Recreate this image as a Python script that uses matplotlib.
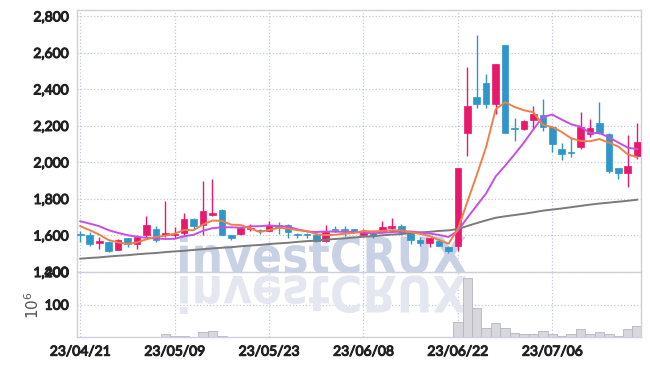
import numpy as np
import matplotlib.pyplot as plt
import matplotlib.patheffects as pe
from matplotlib.textpath import TextPath
from matplotlib.patches import PathPatch
from matplotlib.font_manager import FontProperties
from matplotlib.transforms import Affine2D, IdentityTransform
from matplotlib.ticker import FuncFormatter

# daily OHLC (KRW), one entry per trading day
opens = [1605, 1605, 1560, 1567, 1520, 1584, 1551, 1600, 1638, 1604,
         1600, 1611, 1693, 1656, 1713, 1742, 1600, 1609, 1633, 1627,
         1624, 1658, 1660, 1604, 1603, 1602, 1569, 1636, 1636, 1636,
         1605, 1614, 1620, 1643, 1653, 1614, 1578, 1558, 1569, 1538,
         1545, 2160, 2360, 2437, 2320, 2642, 2188, 2182, 2233, 2260,
         2196, 2075, 2060, 2084, 2156, 2215, 2156, 1969, 1942, 2038]
highs = [1626, 1620, 1593, 1568, 1582, 1588, 1600, 1705, 1651, 1790,
         1645, 1722, 1695, 1900, 1908, 1745, 1602, 1645, 1662, 1636,
         1678, 1673, 1662, 1614, 1613, 1605, 1655, 1650, 1650, 1638,
         1635, 1628, 1678, 1696, 1663, 1616, 1590, 1586, 1573, 1545,
         1972, 2523, 2700, 2483, 2540, 2642, 2245, 2230, 2311, 2347,
         2200, 2105, 2138, 2275, 2236, 2333, 2160, 1972, 2151, 2215]
lows = [1564, 1542, 1524, 1512, 1518, 1536, 1524, 1587, 1564, 1590,
        1588, 1598, 1635, 1605, 1705, 1600, 1578, 1600, 1624, 1607,
        1622, 1610, 1588, 1584, 1586, 1565, 1562, 1620, 1598, 1618,
        1600, 1588, 1615, 1624, 1605, 1555, 1545, 1536, 1542, 1505,
        1515, 2036, 2300, 2296, 2264, 2163, 2118, 2180, 2184, 2173,
        2055, 2011, 2030, 2073, 2142, 2158, 1942, 1909, 1864, 2020]
closes = [1600, 1551, 1568, 1515, 1578, 1556, 1591, 1655, 1578, 1614,
          1610, 1693, 1651, 1733, 1722, 1602, 1588, 1642, 1642, 1623,
          1656, 1648, 1620, 1600, 1600, 1569, 1620, 1629, 1630, 1622,
          1626, 1602, 1647, 1647, 1620, 1575, 1557, 1584, 1545, 1514,
          1970, 2309, 2318, 2320, 2538, 2163, 2182, 2227, 2264, 2196,
          2100, 2046, 2052, 2196, 2187, 2160, 1951, 1942, 1982, 2111]

# volume in millions of shares
volumes = [2, 2, 1, 2, 1, 2, 1, 2, 1, 10,
           3, 5, 2, 17, 20, 4, 1, 2, 1, 1,
           2, 1, 1, 1, 1, 2, 2, 1, 1, 1,
           2, 1, 2, 2, 1, 2, 1, 1, 2, 2,
           48, 183, 90, 28, 45, 27, 14, 9, 11, 19,
           9, 5, 9, 26, 9, 17, 9, 5, 24, 36]

# moving averages as drawn (5-day, 10-day, 60-day)
ma5 = [1651, 1629, 1605, 1575, 1562, 1554, 1562, 1579, 1592, 1599,
       1610, 1630, 1629, 1660, 1682, 1680, 1659, 1657, 1639, 1619,
       1630, 1642, 1638, 1629, 1625, 1607, 1602, 1604, 1610, 1614,
       1625, 1622, 1625, 1629, 1628, 1618, 1609, 1597, 1576, 1555,
       1634, 1784, 1931, 2086, 2291, 2330, 2304, 2286, 2275, 2206,
       2194, 2167, 2132, 2118, 2116, 2128, 2109, 2087, 2044, 2029]
ma10 = [1678, 1665, 1651, 1629, 1614, 1602, 1593, 1587, 1584, 1581,
        1582, 1596, 1604, 1626, 1640, 1645, 1645, 1643, 1650, 1651,
        1655, 1651, 1648, 1634, 1622, 1619, 1622, 1621, 1620, 1619,
        1616, 1612, 1615, 1619, 1621, 1622, 1616, 1611, 1603, 1592,
        1626, 1697, 1764, 1831, 1923, 1982, 2044, 2109, 2181, 2249,
        2262, 2235, 2209, 2196, 2161, 2161, 2138, 2109, 2081, 2073]
ma60 = [1473, 1477, 1480, 1485, 1489, 1492, 1497, 1501, 1504, 1509,
        1513, 1516, 1521, 1525, 1529, 1533, 1536, 1541, 1545, 1548,
        1553, 1557, 1560, 1565, 1569, 1572, 1577, 1581, 1584, 1589,
        1593, 1596, 1601, 1605, 1608, 1613, 1617, 1620, 1625, 1628,
        1635, 1652, 1668, 1683, 1697, 1705, 1712, 1719, 1727, 1736,
        1742, 1748, 1755, 1762, 1769, 1775, 1780, 1785, 1790, 1796]

tick_pos = [0, 10, 20, 30, 40, 50]
tick_labels = ['23/04/21', '23/05/09', '23/05/23', '23/06/08', '23/06/22', '23/07/06']

UP = '#e8186c'
DOWN = '#2e96c8'
GRID = '#c3c8da'
SPINE = '#cfd0da'
LABEL = '#222222'

tick_fp = FontProperties(family=['Lato', 'DejaVu Sans'], size=10)
heavy = [pe.withStroke(linewidth=0.8, foreground=LABEL)]

fig = plt.figure(figsize=(6.5, 3.66), dpi=100)
ax1 = fig.add_axes([0.1185, 0.2568, 0.8669, 0.7159])
ax2 = fig.add_axes([0.1185, 0.0784, 0.8669, 0.1784], sharex=ax1)

x = np.arange(len(closes))
o = np.array(opens)
c = np.array(closes)
colors = np.where(c >= o, UP, DOWN)

# candles
ax1.vlines(x, lows, highs, colors=colors, lw=1.0, zorder=3)
body_lo = np.minimum(o, c)
body_h = np.maximum(np.abs(c - o), 7)
ax1.bar(x, body_h, bottom=body_lo, width=0.7, color=colors, edgecolor=colors,
        lw=0.5, zorder=4)

ax1.plot(x, ma60, color='#7a7a7a', lw=1.4, zorder=5)
ax1.plot(x, ma10, color='#c64fe6', lw=1.4, zorder=5)
ax1.plot(x, ma5, color='#ee8048', lw=1.4, zorder=5)

ax1.set_ylim(1400, 2835)
ax1.set_yticks(np.arange(1400, 2801, 200))
ax1.yaxis.set_major_formatter(FuncFormatter(lambda v, p: f'{v:,.0f}'))
ax1.set_xlim(-0.35, 59.35)

# volume
ax2.bar(x, volumes, width=1.0, color='#d7d7dd', edgecolor='#b5b5bd', lw=0.6, zorder=2)
ax2.set_ylim(0, 200)
ax2.set_yticks([100, 200])
ax2.set_ylabel('$10^6$', color='#555555', fontsize=11)
ax2.yaxis.set_label_coords(-0.062, 0.5)
ax2.set_xticks(tick_pos)
ax2.set_xticklabels(tick_labels)

for ax in (ax1, ax2):
    ax.set_axisbelow(True)
    ax.grid(True, color=GRID, ls=':', lw=0.9)
    ax.tick_params(length=0, pad=6, labelcolor=LABEL)
    for s in ax.spines.values():
        s.set_color(SPINE)
        s.set_linewidth(1.0)
    for lab in ax.get_xticklabels() + ax.get_yticklabels():
        lab.set_fontproperties(tick_fp)
        lab.set_path_effects(heavy)
plt.setp(ax1.get_xticklabels(), visible=False)
ax1.spines['bottom'].set_visible(False)

# watermark and its reflection
tp = TextPath((0, 0), 'investCRUX', size=50,
              prop=FontProperties(family='DejaVu Sans', weight='bold'))
ext = tp.get_extents()
sx = 286 / ext.width
H = 366
tr_up = Affine2D().scale(sx, 1.0).translate(180 - ext.x0 * sx, H - 273) + IdentityTransform()
tr_dn = Affine2D().scale(sx, -1.0).translate(180 - ext.x0 * sx, H - 276) + IdentityTransform()
ax1.add_patch(PathPatch(tp, transform=tr_up, color='#c9d1e4', lw=0, zorder=1, clip_on=False))
ax2.add_patch(PathPatch(tp, transform=tr_dn, color='#e4e7f0', lw=0, zorder=1, clip_on=False))

fig.savefig('out.png', dpi=100)
